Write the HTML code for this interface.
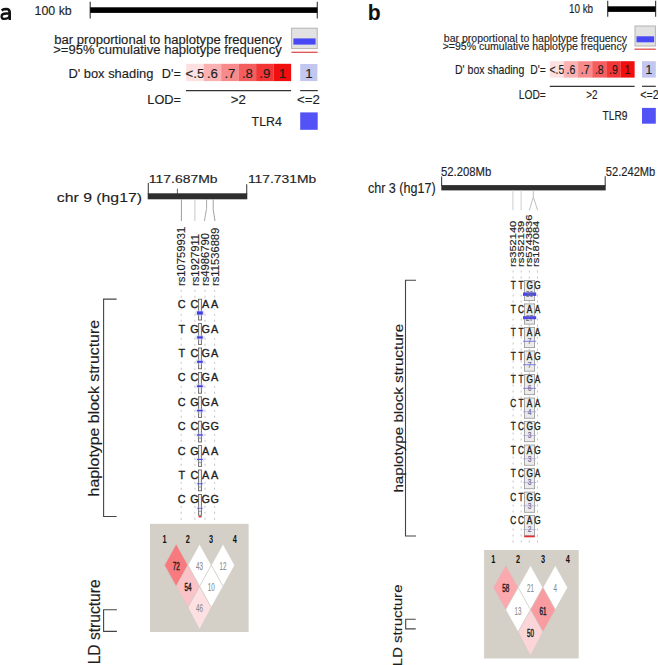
<!DOCTYPE html>
<html><head><meta charset="utf-8"><title>Haplotype figure</title>
<style>
html,body{margin:0;padding:0;background:#fff;}
body{width:658px;height:665px;overflow:hidden;}
svg{display:block;font-family:"Liberation Sans",sans-serif;}
</style></head>
<body>
<svg width="658" height="665" viewBox="0 0 658 665">
<rect x="0" y="0" width="658" height="665" fill="#fff"/>
<g fill="none" stroke="#111" stroke-width="2.5"><path d="M1.6,10.3 C3.2,9.4 4.8,9.1 6.2,9.1 C8.7,9.2 9.75,10.4 9.75,12.5 L9.75,19.9"/><path stroke-width="2.3" d="M9.75,13.5 L6.3,13.5 C3.3,13.5 1.6,14.6 1.6,16.4 C1.6,18.0 2.7,18.85 4.4,18.85 C7.2,18.85 9.75,17.4 9.75,15.0"/></g>
<text x="34.60" y="14.50" font-size="12.90" fill="#1e1e1e" stroke="#1e1e1e" stroke-width="0.15" textLength="37.10" lengthAdjust="spacingAndGlyphs" >100 kb</text>
<line x1="90.20" y1="1.80" x2="90.20" y2="18.50" stroke="#444" stroke-width="1.2" />
<line x1="317.30" y1="1.80" x2="317.30" y2="18.50" stroke="#444" stroke-width="1.2" />
<rect x="90.20" y="7.30" width="227.10" height="5.60" fill="#000"/>
<text x="54.30" y="43.90" font-size="12.30" fill="#1e1e1e" stroke="#1e1e1e" stroke-width="0.15" textLength="227.40" lengthAdjust="spacingAndGlyphs" >bar proportional to haplotype frequency</text>
<text x="53.20" y="53.60" font-size="12.30" fill="#1e1e1e" stroke="#1e1e1e" stroke-width="0.15" textLength="228.50" lengthAdjust="spacingAndGlyphs" >&gt;=95% cumulative haplotype frequency</text>
<rect x="291.60" y="28.20" width="25.60" height="20.40" fill="#e2e2e2" stroke="#b4b4b4" stroke-width="1"/>
<rect x="293.40" y="38.40" width="22.20" height="6.20" fill="#4848f4"/>
<line x1="291.40" y1="52.30" x2="317.60" y2="52.30" stroke="#e05050" stroke-width="1.3" />
<text x="68.40" y="77.80" font-size="13.60" fill="#1e1e1e" stroke="#1e1e1e" stroke-width="0.15" textLength="85.00" lengthAdjust="spacingAndGlyphs" >D' box shading</text>
<text x="161.80" y="77.80" font-size="13.60" fill="#1e1e1e" stroke="#1e1e1e" stroke-width="0.15" textLength="19.00" lengthAdjust="spacingAndGlyphs" >D'=</text>
<rect x="186.20" y="63.80" width="17.53" height="17.30" fill="#fde0e0"/>
<text x="194.94" y="77.80" font-size="13.20" fill="#1e1e1e" stroke="#1e1e1e" stroke-width="0.15" text-anchor="middle" >&lt;.5</text>
<rect x="203.68" y="63.80" width="17.53" height="17.30" fill="#f9b1b2"/>
<text x="212.42" y="77.80" font-size="13.20" fill="#1e1e1e" stroke="#1e1e1e" stroke-width="0.15" text-anchor="middle" >.6</text>
<rect x="221.16" y="63.80" width="17.53" height="17.30" fill="#f78b8c"/>
<text x="229.90" y="77.80" font-size="13.20" fill="#1e1e1e" stroke="#1e1e1e" stroke-width="0.15" text-anchor="middle" >.7</text>
<rect x="238.64" y="63.80" width="17.53" height="17.30" fill="#f55e5f"/>
<text x="247.38" y="77.80" font-size="13.20" fill="#1e1e1e" stroke="#1e1e1e" stroke-width="0.15" text-anchor="middle" >.8</text>
<rect x="256.12" y="63.80" width="17.53" height="17.30" fill="#f33535"/>
<text x="264.86" y="77.80" font-size="13.20" fill="#1e1e1e" stroke="#1e1e1e" stroke-width="0.15" text-anchor="middle" >.9</text>
<rect x="273.60" y="63.80" width="17.53" height="17.30" fill="#f00e0e"/>
<text x="282.34" y="77.80" font-size="13.20" fill="#1e1e1e" stroke="#1e1e1e" stroke-width="0.15" text-anchor="middle" >1</text>
<rect x="300.20" y="64.00" width="17.20" height="17.10" fill="#c3c6ee"/>
<text x="308.80" y="77.80" font-size="13.20" fill="#1e1e1e" stroke="#1e1e1e" stroke-width="0.15" text-anchor="middle" >1</text>
<line x1="186.00" y1="90.60" x2="291.10" y2="90.60" stroke="#333" stroke-width="1.2" />
<line x1="300.20" y1="90.60" x2="317.80" y2="90.60" stroke="#333" stroke-width="1.2" />
<text x="147.30" y="104.00" font-size="13.60" fill="#1e1e1e" stroke="#1e1e1e" stroke-width="0.15" textLength="33.70" lengthAdjust="spacingAndGlyphs" >LOD=</text>
<text x="238.40" y="104.00" font-size="13.30" fill="#1e1e1e" stroke="#1e1e1e" stroke-width="0.15" text-anchor="middle" >&gt;2</text>
<text x="308.50" y="104.00" font-size="13.30" fill="#1e1e1e" stroke="#1e1e1e" stroke-width="0.15" text-anchor="middle" >&lt;=2</text>
<text x="251.60" y="125.50" font-size="13.20" fill="#1e1e1e" stroke="#1e1e1e" stroke-width="0.15" textLength="30.20" lengthAdjust="spacingAndGlyphs" >TLR4</text>
<rect x="300.20" y="112.40" width="17.50" height="17.40" fill="#5252f6"/>
<text x="56.80" y="202.20" font-size="13.60" fill="#1e1e1e" stroke="#1e1e1e" stroke-width="0.15" textLength="85.20" lengthAdjust="spacingAndGlyphs" >chr 9 (hg17)</text>
<text x="148.80" y="183.20" font-size="11.80" fill="#1e1e1e" stroke="#1e1e1e" stroke-width="0.15" textLength="68.70" lengthAdjust="spacingAndGlyphs" >117.687Mb</text>
<text x="247.90" y="183.40" font-size="11.80" fill="#1e1e1e" stroke="#1e1e1e" stroke-width="0.15" textLength="68.40" lengthAdjust="spacingAndGlyphs" >117.731Mb</text>
<line x1="148.30" y1="183.00" x2="148.30" y2="194.00" stroke="#444" stroke-width="1.1" />
<line x1="246.70" y1="184.30" x2="246.70" y2="194.00" stroke="#444" stroke-width="1.1" />
<line x1="177.40" y1="188.60" x2="177.40" y2="194.00" stroke="#555" stroke-width="0.9" />
<rect x="147.70" y="193.30" width="99.60" height="6.00" fill="#2e2e2e"/>
<line x1="181.40" y1="199.30" x2="181.40" y2="221.00" stroke="#9c9c9c" stroke-width="1" />
<line x1="194.90" y1="199.30" x2="194.90" y2="221.00" stroke="#c6c6c6" stroke-width="1" />
<polyline points="206.60,199.30 206.60,208.30 204.40,221.00" fill="none" stroke="#aaaaaa" stroke-width="1"/>
<polyline points="213.20,199.30 213.20,209.50 215.00,221.00" fill="none" stroke="#a0a0a0" stroke-width="1"/>
<text transform="translate(185.10,286.00) rotate(-90)" x="0" y="0" font-size="11.00" fill="#1e1e1e" stroke="#1e1e1e" stroke-width="0.15" textLength="59.16" lengthAdjust="spacingAndGlyphs">rs10759931</text>
<text transform="translate(198.70,286.00) rotate(-90)" x="0" y="0" font-size="11.00" fill="#1e1e1e" stroke="#1e1e1e" stroke-width="0.15" textLength="52.10" lengthAdjust="spacingAndGlyphs">rs1927911</text>
<text transform="translate(208.50,286.00) rotate(-90)" x="0" y="0" font-size="11.00" fill="#1e1e1e" stroke="#1e1e1e" stroke-width="0.15" textLength="52.93" lengthAdjust="spacingAndGlyphs">rs4986790</text>
<text transform="translate(218.60,286.00) rotate(-90)" x="0" y="0" font-size="11.00" fill="#1e1e1e" stroke="#1e1e1e" stroke-width="0.15" textLength="58.33" lengthAdjust="spacingAndGlyphs">rs11536889</text>
<line x1="181.20" y1="289.80" x2="181.20" y2="523.00" stroke="#bdbdbd" stroke-width="0.9" stroke-dasharray="2 4"/>
<line x1="194.90" y1="289.80" x2="194.90" y2="523.00" stroke="#bdbdbd" stroke-width="0.9" stroke-dasharray="2 4"/>
<line x1="205.00" y1="289.80" x2="205.00" y2="523.00" stroke="#bdbdbd" stroke-width="0.9" stroke-dasharray="2 4"/>
<line x1="214.60" y1="289.80" x2="214.60" y2="523.00" stroke="#bdbdbd" stroke-width="0.9" stroke-dasharray="2 4"/>
<rect x="176.50" y="300.00" width="44.00" height="9.20" fill="#ffffff"/>
<rect x="198.50" y="299.20" width="3.10" height="20.80" fill="#f0f0f0" stroke="#5a5a5a" stroke-width="0.8"/>
<ellipse cx="199.9" cy="313.00" rx="5.0" ry="3.2" fill="#c4c4f4" opacity="0.55"/>
<rect x="197.00" y="311.40" width="5.80" height="3.20" fill="#4040e0"/>
<text x="181.70" y="308.20" font-size="10.80" fill="#1e1e1e" stroke="#1e1e1e" stroke-width="0.35" text-anchor="middle" >C</text>
<text x="194.40" y="308.20" font-size="10.80" fill="#1e1e1e" stroke="#1e1e1e" stroke-width="0.35" text-anchor="middle" >C</text>
<text x="205.60" y="308.20" font-size="10.80" fill="#1e1e1e" stroke="#1e1e1e" stroke-width="0.35" text-anchor="middle" >A</text>
<text x="214.60" y="308.20" font-size="10.80" fill="#1e1e1e" stroke="#1e1e1e" stroke-width="0.35" text-anchor="middle" >A</text>
<rect x="176.50" y="324.40" width="44.00" height="9.20" fill="#ffffff"/>
<rect x="198.50" y="323.60" width="3.10" height="20.80" fill="#f0f0f0" stroke="#5a5a5a" stroke-width="0.8"/>
<ellipse cx="199.9" cy="337.40" rx="5.0" ry="3.2" fill="#c4c4f4" opacity="0.44"/>
<rect x="197.00" y="336.30" width="5.80" height="2.20" fill="#4040e0"/>
<text x="181.70" y="332.60" font-size="10.80" fill="#1e1e1e" stroke="#1e1e1e" stroke-width="0.35" text-anchor="middle" >T</text>
<text x="194.40" y="332.60" font-size="10.80" fill="#1e1e1e" stroke="#1e1e1e" stroke-width="0.35" text-anchor="middle" >G</text>
<text x="205.60" y="332.60" font-size="10.80" fill="#1e1e1e" stroke="#1e1e1e" stroke-width="0.35" text-anchor="middle" >G</text>
<text x="214.60" y="332.60" font-size="10.80" fill="#1e1e1e" stroke="#1e1e1e" stroke-width="0.35" text-anchor="middle" >A</text>
<rect x="176.50" y="348.80" width="44.00" height="9.20" fill="#ffffff"/>
<rect x="198.50" y="348.00" width="3.10" height="20.80" fill="#f0f0f0" stroke="#5a5a5a" stroke-width="0.8"/>
<ellipse cx="199.9" cy="361.80" rx="5.0" ry="3.2" fill="#c4c4f4" opacity="0.41"/>
<rect x="197.00" y="360.80" width="5.80" height="2.00" fill="#4040e0"/>
<text x="181.70" y="357.00" font-size="10.80" fill="#1e1e1e" stroke="#1e1e1e" stroke-width="0.35" text-anchor="middle" >T</text>
<text x="194.40" y="357.00" font-size="10.80" fill="#1e1e1e" stroke="#1e1e1e" stroke-width="0.35" text-anchor="middle" >C</text>
<text x="205.60" y="357.00" font-size="10.80" fill="#1e1e1e" stroke="#1e1e1e" stroke-width="0.35" text-anchor="middle" >G</text>
<text x="214.60" y="357.00" font-size="10.80" fill="#1e1e1e" stroke="#1e1e1e" stroke-width="0.35" text-anchor="middle" >A</text>
<rect x="176.50" y="373.20" width="44.00" height="9.20" fill="#ffffff"/>
<rect x="198.50" y="372.40" width="3.10" height="20.80" fill="#f0f0f0" stroke="#5a5a5a" stroke-width="0.8"/>
<ellipse cx="199.9" cy="386.20" rx="5.0" ry="3.2" fill="#c4c4f4" opacity="0.39"/>
<rect x="197.00" y="385.30" width="5.80" height="1.80" fill="#4040e0"/>
<text x="181.70" y="381.40" font-size="10.80" fill="#1e1e1e" stroke="#1e1e1e" stroke-width="0.35" text-anchor="middle" >C</text>
<text x="194.40" y="381.40" font-size="10.80" fill="#1e1e1e" stroke="#1e1e1e" stroke-width="0.35" text-anchor="middle" >C</text>
<text x="205.60" y="381.40" font-size="10.80" fill="#1e1e1e" stroke="#1e1e1e" stroke-width="0.35" text-anchor="middle" >G</text>
<text x="214.60" y="381.40" font-size="10.80" fill="#1e1e1e" stroke="#1e1e1e" stroke-width="0.35" text-anchor="middle" >A</text>
<rect x="176.50" y="397.60" width="44.00" height="9.20" fill="#ffffff"/>
<rect x="198.50" y="396.80" width="3.10" height="20.80" fill="#f0f0f0" stroke="#5a5a5a" stroke-width="0.8"/>
<ellipse cx="199.9" cy="410.60" rx="5.0" ry="3.2" fill="#c4c4f4" opacity="0.36"/>
<rect x="197.00" y="409.80" width="5.80" height="1.60" fill="#4040e0"/>
<text x="181.70" y="405.80" font-size="10.80" fill="#1e1e1e" stroke="#1e1e1e" stroke-width="0.35" text-anchor="middle" >C</text>
<text x="194.40" y="405.80" font-size="10.80" fill="#1e1e1e" stroke="#1e1e1e" stroke-width="0.35" text-anchor="middle" >G</text>
<text x="205.60" y="405.80" font-size="10.80" fill="#1e1e1e" stroke="#1e1e1e" stroke-width="0.35" text-anchor="middle" >G</text>
<text x="214.60" y="405.80" font-size="10.80" fill="#1e1e1e" stroke="#1e1e1e" stroke-width="0.35" text-anchor="middle" >A</text>
<rect x="176.50" y="422.00" width="44.00" height="9.20" fill="#ffffff"/>
<rect x="198.50" y="421.20" width="3.10" height="20.80" fill="#f0f0f0" stroke="#5a5a5a" stroke-width="0.8"/>
<ellipse cx="199.9" cy="435.00" rx="5.0" ry="3.2" fill="#c4c4f4" opacity="0.30"/>
<rect x="197.00" y="434.35" width="5.80" height="1.30" fill="#4040e0"/>
<line x1="198.60" y1="438.20" x2="201.50" y2="438.20" stroke="#777" stroke-width="0.6" />
<text x="181.70" y="430.20" font-size="10.80" fill="#1e1e1e" stroke="#1e1e1e" stroke-width="0.35" text-anchor="middle" >C</text>
<text x="194.40" y="430.20" font-size="10.80" fill="#1e1e1e" stroke="#1e1e1e" stroke-width="0.35" text-anchor="middle" >C</text>
<text x="205.60" y="430.20" font-size="10.80" fill="#1e1e1e" stroke="#1e1e1e" stroke-width="0.35" text-anchor="middle" >G</text>
<text x="214.60" y="430.20" font-size="10.80" fill="#1e1e1e" stroke="#1e1e1e" stroke-width="0.35" text-anchor="middle" >G</text>
<rect x="176.50" y="446.40" width="44.00" height="9.20" fill="#ffffff"/>
<rect x="198.50" y="445.60" width="3.10" height="20.80" fill="#f0f0f0" stroke="#5a5a5a" stroke-width="0.8"/>
<ellipse cx="199.9" cy="459.40" rx="5.0" ry="3.2" fill="#c4c4f4" opacity="0.25"/>
<rect x="197.00" y="458.90" width="5.80" height="1.00" fill="#4040e0"/>
<line x1="198.60" y1="462.60" x2="201.50" y2="462.60" stroke="#777" stroke-width="0.6" />
<text x="181.70" y="454.60" font-size="10.80" fill="#1e1e1e" stroke="#1e1e1e" stroke-width="0.35" text-anchor="middle" >C</text>
<text x="194.40" y="454.60" font-size="10.80" fill="#1e1e1e" stroke="#1e1e1e" stroke-width="0.35" text-anchor="middle" >G</text>
<text x="205.60" y="454.60" font-size="10.80" fill="#1e1e1e" stroke="#1e1e1e" stroke-width="0.35" text-anchor="middle" >A</text>
<text x="214.60" y="454.60" font-size="10.80" fill="#1e1e1e" stroke="#1e1e1e" stroke-width="0.35" text-anchor="middle" >A</text>
<rect x="176.50" y="470.80" width="44.00" height="9.20" fill="#ffffff"/>
<rect x="198.50" y="470.00" width="3.10" height="20.80" fill="#f0f0f0" stroke="#5a5a5a" stroke-width="0.8"/>
<ellipse cx="199.9" cy="483.80" rx="5.0" ry="3.2" fill="#c4c4f4" opacity="0.17"/>
<rect x="197.00" y="483.40" width="5.80" height="0.80" fill="#4040e0"/>
<line x1="198.60" y1="487.00" x2="201.50" y2="487.00" stroke="#777" stroke-width="0.6" />
<text x="181.70" y="479.00" font-size="10.80" fill="#1e1e1e" stroke="#1e1e1e" stroke-width="0.35" text-anchor="middle" >T</text>
<text x="194.40" y="479.00" font-size="10.80" fill="#1e1e1e" stroke="#1e1e1e" stroke-width="0.35" text-anchor="middle" >C</text>
<text x="205.60" y="479.00" font-size="10.80" fill="#1e1e1e" stroke="#1e1e1e" stroke-width="0.35" text-anchor="middle" >A</text>
<text x="214.60" y="479.00" font-size="10.80" fill="#1e1e1e" stroke="#1e1e1e" stroke-width="0.35" text-anchor="middle" >A</text>
<rect x="176.50" y="495.20" width="44.00" height="9.20" fill="#ffffff"/>
<rect x="198.50" y="494.40" width="3.10" height="20.80" fill="#f0f0f0" stroke="#5a5a5a" stroke-width="0.8"/>
<ellipse cx="199.9" cy="508.20" rx="5.0" ry="3.2" fill="#c4c4f4" opacity="0.14"/>
<rect x="197.00" y="507.90" width="5.80" height="0.60" fill="#4040e0"/>
<line x1="198.60" y1="511.40" x2="201.50" y2="511.40" stroke="#777" stroke-width="0.6" />
<text x="181.70" y="503.40" font-size="10.80" fill="#1e1e1e" stroke="#1e1e1e" stroke-width="0.35" text-anchor="middle" >C</text>
<text x="194.40" y="503.40" font-size="10.80" fill="#1e1e1e" stroke="#1e1e1e" stroke-width="0.35" text-anchor="middle" >G</text>
<text x="205.60" y="503.40" font-size="10.80" fill="#1e1e1e" stroke="#1e1e1e" stroke-width="0.35" text-anchor="middle" >G</text>
<text x="214.60" y="503.40" font-size="10.80" fill="#1e1e1e" stroke="#1e1e1e" stroke-width="0.35" text-anchor="middle" >G</text>
<rect x="198.60" y="516.00" width="3.00" height="1.40" fill="#e03030"/>
<polyline points="116.60,299.10 103.60,299.10 103.60,516.50 116.60,516.50" fill="none" stroke="#444" stroke-width="1.1"/>
<text transform="translate(99.40,496.40) rotate(-90)" x="0" y="0" font-size="15.10" fill="#1e1e1e" stroke="#1e1e1e" stroke-width="0.15" textLength="176.40" lengthAdjust="spacingAndGlyphs">haplotype block structure</text>
<text transform="translate(99.80,664.30) rotate(-90)" x="0" y="0" font-size="15.80" fill="#1e1e1e" stroke="#1e1e1e" stroke-width="0.15" textLength="84.90" lengthAdjust="spacingAndGlyphs">LD structure</text>
<polyline points="116.90,609.70 103.60,609.70 103.60,631.40 116.90,631.40" fill="none" stroke="#444" stroke-width="1.1"/>
<rect x="150.00" y="523.80" width="98.60" height="108.20" fill="#d4d0c8"/>
<text x="164.60" y="542.90" font-size="10.20" fill="#111" font-weight="bold" text-anchor="middle" transform="translate(164.60,0) scale(0.72,1) translate(-164.60,0)">1</text>
<text x="187.80" y="542.90" font-size="10.20" fill="#111" font-weight="bold" text-anchor="middle" transform="translate(187.80,0) scale(0.72,1) translate(-187.80,0)">2</text>
<text x="211.00" y="542.90" font-size="10.20" fill="#111" font-weight="bold" text-anchor="middle" transform="translate(211.00,0) scale(0.72,1) translate(-211.00,0)">3</text>
<text x="234.80" y="542.90" font-size="10.20" fill="#111" font-weight="bold" text-anchor="middle" transform="translate(234.80,0) scale(0.72,1) translate(-234.80,0)">4</text>
<polygon points="176.20,544.00 187.90,565.20 176.20,586.40 164.50,565.20" fill="#f77b7e" stroke="#cfcbc3" stroke-width="0.6"/>
<polygon points="199.60,544.00 211.30,565.20 199.60,586.40 187.90,565.20" fill="#ffffff" stroke="#cfcbc3" stroke-width="0.6"/>
<polygon points="223.00,544.00 234.70,565.20 223.00,586.40 211.30,565.20" fill="#ffffff" stroke="#cfcbc3" stroke-width="0.6"/>
<polygon points="187.90,565.20 199.60,586.40 187.90,607.60 176.20,586.40" fill="#fac3c7" stroke="#cfcbc3" stroke-width="0.6"/>
<polygon points="211.30,565.20 223.00,586.40 211.30,607.60 199.60,586.40" fill="#ffffff" stroke="#cfcbc3" stroke-width="0.6"/>
<polygon points="199.60,586.40 211.30,607.60 199.60,629.60 187.90,607.60" fill="#fde0e2" stroke="#cfcbc3" stroke-width="0.6"/>
<text x="176.20" y="570.10" font-size="11.20" fill="#222" stroke="#222" stroke-width="0.5" text-anchor="middle" transform="translate(176.20,0) scale(0.56,1) translate(-176.20,0)">72</text>
<text x="199.60" y="570.10" font-size="11.20" fill="#8a8a8a" stroke="#8a8a8a" stroke-width="0.1" text-anchor="middle" transform="translate(199.60,0) scale(0.56,1) translate(-199.60,0)">43</text>
<text x="223.00" y="570.10" font-size="11.20" fill="#8a8a8a" stroke="#8a8a8a" stroke-width="0.1" text-anchor="middle" transform="translate(223.00,0) scale(0.56,1) translate(-223.00,0)">12</text>
<text x="187.90" y="591.30" font-size="11.20" fill="#222" stroke="#222" stroke-width="0.5" text-anchor="middle" transform="translate(187.90,0) scale(0.56,1) translate(-187.90,0)">54</text>
<text x="211.30" y="591.30" font-size="11.20" fill="#8a8a8a" stroke="#8a8a8a" stroke-width="0.1" text-anchor="middle" transform="translate(211.30,0) scale(0.56,1) translate(-211.30,0)">10</text>
<text x="199.60" y="612.50" font-size="11.20" fill="#8a8a8a" stroke="#8a8a8a" stroke-width="0.1" text-anchor="middle" transform="translate(199.60,0) scale(0.56,1) translate(-199.60,0)">46</text>
<text x="367.70" y="19.90" font-size="22.10" fill="#111" font-weight="bold" textLength="12.90" lengthAdjust="spacingAndGlyphs" >b</text>
<text x="568.90" y="12.70" font-size="12.20" fill="#1e1e1e" stroke="#1e1e1e" stroke-width="0.15" textLength="24.20" lengthAdjust="spacingAndGlyphs" >10 kb</text>
<line x1="607.70" y1="0.70" x2="607.70" y2="16.70" stroke="#444" stroke-width="1.2" />
<line x1="655.60" y1="0.70" x2="655.60" y2="16.70" stroke="#444" stroke-width="1.2" />
<rect x="607.70" y="6.30" width="47.90" height="5.60" fill="#000"/>
<text x="443.80" y="41.50" font-size="11.40" fill="#1e1e1e" stroke="#1e1e1e" stroke-width="0.15" textLength="183.20" lengthAdjust="spacingAndGlyphs" >bar proportional to haplotype frequency</text>
<text x="442.70" y="49.80" font-size="11.40" fill="#1e1e1e" stroke="#1e1e1e" stroke-width="0.15" textLength="184.30" lengthAdjust="spacingAndGlyphs" >&gt;=95% cumulative haplotype frequency</text>
<rect x="635.00" y="26.00" width="20.40" height="20.00" fill="#e2e2e2" stroke="#b4b4b4" stroke-width="1"/>
<rect x="636.50" y="36.30" width="17.60" height="6.00" fill="#4848f4"/>
<line x1="634.50" y1="49.20" x2="655.80" y2="49.20" stroke="#e05050" stroke-width="1.3" />
<text x="455.00" y="73.80" font-size="12.40" fill="#1e1e1e" stroke="#1e1e1e" stroke-width="0.15" textLength="69.30" lengthAdjust="spacingAndGlyphs" >D' box shading</text>
<text x="530.30" y="73.80" font-size="12.40" fill="#1e1e1e" stroke="#1e1e1e" stroke-width="0.15" textLength="15.50" lengthAdjust="spacingAndGlyphs" >D'=</text>
<rect x="549.80" y="61.20" width="14.18" height="16.40" fill="#fde0e0"/>
<text x="549.43" y="74.00" font-size="12.20" fill="#1e1e1e" stroke="#1e1e1e" stroke-width="0.15" textLength="14.88" lengthAdjust="spacingAndGlyphs" >&lt;.5</text>
<rect x="563.93" y="61.20" width="14.18" height="16.40" fill="#f9b1b2"/>
<text x="566.62" y="74.00" font-size="12.20" fill="#1e1e1e" stroke="#1e1e1e" stroke-width="0.15" textLength="8.75" lengthAdjust="spacingAndGlyphs" >.6</text>
<rect x="578.06" y="61.20" width="14.18" height="16.40" fill="#f78b8c"/>
<text x="580.75" y="74.00" font-size="12.20" fill="#1e1e1e" stroke="#1e1e1e" stroke-width="0.15" textLength="8.75" lengthAdjust="spacingAndGlyphs" >.7</text>
<rect x="592.19" y="61.20" width="14.18" height="16.40" fill="#f55e5f"/>
<text x="594.88" y="74.00" font-size="12.20" fill="#1e1e1e" stroke="#1e1e1e" stroke-width="0.15" textLength="8.75" lengthAdjust="spacingAndGlyphs" >.8</text>
<rect x="606.32" y="61.20" width="14.18" height="16.40" fill="#f33535"/>
<text x="609.01" y="74.00" font-size="12.20" fill="#1e1e1e" stroke="#1e1e1e" stroke-width="0.15" textLength="8.75" lengthAdjust="spacingAndGlyphs" >.9</text>
<rect x="620.45" y="61.20" width="14.18" height="16.40" fill="#f00e0e"/>
<text x="624.60" y="74.00" font-size="12.20" fill="#1e1e1e" stroke="#1e1e1e" stroke-width="0.15" textLength="5.84" lengthAdjust="spacingAndGlyphs" >1</text>
<rect x="642.00" y="61.20" width="13.80" height="16.40" fill="#c3c6ee"/>
<text x="648.90" y="74.00" font-size="12.20" fill="#1e1e1e" stroke="#1e1e1e" stroke-width="0.15" text-anchor="middle" >1</text>
<line x1="549.80" y1="86.30" x2="634.60" y2="86.30" stroke="#333" stroke-width="1.2" />
<line x1="642.00" y1="86.30" x2="655.80" y2="86.30" stroke="#333" stroke-width="1.2" />
<text x="518.80" y="98.80" font-size="12.60" fill="#1e1e1e" stroke="#1e1e1e" stroke-width="0.15" textLength="27.00" lengthAdjust="spacingAndGlyphs" >LOD=</text>
<text x="586.20" y="98.80" font-size="12.60" fill="#1e1e1e" stroke="#1e1e1e" stroke-width="0.15" textLength="11.30" lengthAdjust="spacingAndGlyphs" >&gt;2</text>
<text x="640.30" y="98.80" font-size="12.60" fill="#1e1e1e" stroke="#1e1e1e" stroke-width="0.15" textLength="18.50" lengthAdjust="spacingAndGlyphs" >&lt;=2</text>
<text x="602.50" y="119.90" font-size="12.00" fill="#1e1e1e" stroke="#1e1e1e" stroke-width="0.15" textLength="24.90" lengthAdjust="spacingAndGlyphs" >TLR9</text>
<rect x="642.00" y="107.90" width="13.80" height="15.80" fill="#5252f6"/>
<text x="367.90" y="192.70" font-size="14.40" fill="#1e1e1e" stroke="#1e1e1e" stroke-width="0.15" textLength="67.80" lengthAdjust="spacingAndGlyphs" >chr 3 (hg17)</text>
<text x="440.90" y="175.70" font-size="12.60" fill="#1e1e1e" stroke="#1e1e1e" stroke-width="0.15" textLength="50.40" lengthAdjust="spacingAndGlyphs" >52.208Mb</text>
<text x="605.80" y="175.70" font-size="12.60" fill="#1e1e1e" stroke="#1e1e1e" stroke-width="0.15" textLength="49.50" lengthAdjust="spacingAndGlyphs" >52.242Mb</text>
<line x1="441.60" y1="176.50" x2="441.60" y2="186.00" stroke="#444" stroke-width="1.1" />
<line x1="605.20" y1="176.30" x2="605.20" y2="186.00" stroke="#444" stroke-width="1.1" />
<rect x="441.30" y="185.10" width="164.40" height="5.30" fill="#2e2e2e"/>
<path d="M512.9,190.3 V210.4 M521.1,190.3 V210.4" stroke="#cfcfcf" stroke-width="1" fill="none"/>
<path d="M533.3,190.3 V197.2 Q531.6,202 529.4,210.4 M533.3,197.2 Q535.0,202 537.7,210.4" stroke="#b8b8b8" stroke-width="0.9" fill="none"/>
<text transform="translate(515.90,267.0) scale(0.74,1) rotate(-90)" x="0" y="0" font-size="11.1" fill="#1e1e1e" stroke="#1e1e1e" stroke-width="0.22">rs352140</text>
<text transform="translate(523.90,267.0) scale(0.74,1) rotate(-90)" x="0" y="0" font-size="11.1" fill="#1e1e1e" stroke="#1e1e1e" stroke-width="0.22">rs352139</text>
<text transform="translate(531.50,267.0) scale(0.74,1) rotate(-90)" x="0" y="0" font-size="11.1" fill="#1e1e1e" stroke="#1e1e1e" stroke-width="0.22">rs5743836</text>
<text transform="translate(539.00,267.0) scale(0.74,1) rotate(-90)" x="0" y="0" font-size="11.1" fill="#1e1e1e" stroke="#1e1e1e" stroke-width="0.22">rs187084</text>
<line x1="513.10" y1="270.50" x2="513.10" y2="544.00" stroke="#bdbdbd" stroke-width="0.9" stroke-dasharray="2 4"/>
<line x1="521.20" y1="270.50" x2="521.20" y2="544.00" stroke="#bdbdbd" stroke-width="0.9" stroke-dasharray="2 4"/>
<line x1="529.30" y1="270.50" x2="529.30" y2="544.00" stroke="#bdbdbd" stroke-width="0.9" stroke-dasharray="2 4"/>
<line x1="537.50" y1="270.50" x2="537.50" y2="544.00" stroke="#bdbdbd" stroke-width="0.9" stroke-dasharray="2 4"/>
<rect x="509.00" y="281.00" width="33.00" height="9.00" fill="#ffffff"/>
<rect x="524.40" y="280.40" width="10.20" height="20.20" fill="#ececec" stroke="#959595" stroke-width="0.8"/>
<rect x="523.00" y="292.50" width="13.20" height="3.40" fill="#4848ee"/>
<text x="529.50" y="297.20" font-size="8.30" fill="#6a6a90" stroke="#6a6a90" stroke-width="0.15" text-anchor="middle" transform="translate(529.5,0) scale(0.8,1) translate(-529.5,0)">30</text>
<text x="510.78" y="289.00" font-size="10.30" fill="#1e1e1e" stroke="#1e1e1e" stroke-width="0.35" textLength="5.03" lengthAdjust="spacingAndGlyphs" >T</text>
<text x="518.58" y="289.00" font-size="10.30" fill="#1e1e1e" stroke="#1e1e1e" stroke-width="0.35" textLength="5.03" lengthAdjust="spacingAndGlyphs" >T</text>
<text x="526.40" y="289.00" font-size="10.30" fill="#1e1e1e" stroke="#1e1e1e" stroke-width="0.35" textLength="6.41" lengthAdjust="spacingAndGlyphs" >G</text>
<text x="534.30" y="289.00" font-size="10.30" fill="#1e1e1e" stroke="#1e1e1e" stroke-width="0.35" textLength="6.41" lengthAdjust="spacingAndGlyphs" >G</text>
<rect x="509.00" y="304.52" width="33.00" height="9.00" fill="#ffffff"/>
<rect x="524.40" y="303.92" width="10.20" height="20.20" fill="#ececec" stroke="#959595" stroke-width="0.8"/>
<rect x="523.00" y="316.22" width="13.20" height="3.00" fill="#4848ee"/>
<text x="529.50" y="320.72" font-size="8.30" fill="#6a6a90" stroke="#6a6a90" stroke-width="0.15" text-anchor="middle" transform="translate(529.5,0) scale(0.8,1) translate(-529.5,0)">27</text>
<text x="510.78" y="312.52" font-size="10.30" fill="#1e1e1e" stroke="#1e1e1e" stroke-width="0.35" textLength="5.03" lengthAdjust="spacingAndGlyphs" >T</text>
<text x="518.12" y="312.52" font-size="10.30" fill="#1e1e1e" stroke="#1e1e1e" stroke-width="0.35" textLength="5.95" lengthAdjust="spacingAndGlyphs" >C</text>
<text x="526.85" y="312.52" font-size="10.30" fill="#1e1e1e" stroke="#1e1e1e" stroke-width="0.35" textLength="5.50" lengthAdjust="spacingAndGlyphs" >A</text>
<text x="534.75" y="312.52" font-size="10.30" fill="#1e1e1e" stroke="#1e1e1e" stroke-width="0.35" textLength="5.50" lengthAdjust="spacingAndGlyphs" >A</text>
<rect x="509.00" y="328.04" width="33.00" height="9.00" fill="#ffffff"/>
<rect x="524.40" y="327.44" width="10.20" height="20.20" fill="#ececec" stroke="#959595" stroke-width="0.8"/>
<rect x="523.00" y="340.79" width="13.20" height="0.90" fill="#7474f0"/>
<text x="529.50" y="344.24" font-size="8.30" fill="#6a6a90" stroke="#6a6a90" stroke-width="0.15" text-anchor="middle" transform="translate(529.5,0) scale(0.8,1) translate(-529.5,0)">7</text>
<text x="510.78" y="336.04" font-size="10.30" fill="#1e1e1e" stroke="#1e1e1e" stroke-width="0.35" textLength="5.03" lengthAdjust="spacingAndGlyphs" >T</text>
<text x="518.58" y="336.04" font-size="10.30" fill="#1e1e1e" stroke="#1e1e1e" stroke-width="0.35" textLength="5.03" lengthAdjust="spacingAndGlyphs" >T</text>
<text x="526.85" y="336.04" font-size="10.30" fill="#1e1e1e" stroke="#1e1e1e" stroke-width="0.35" textLength="5.50" lengthAdjust="spacingAndGlyphs" >A</text>
<text x="534.75" y="336.04" font-size="10.30" fill="#1e1e1e" stroke="#1e1e1e" stroke-width="0.35" textLength="5.50" lengthAdjust="spacingAndGlyphs" >A</text>
<rect x="509.00" y="351.56" width="33.00" height="9.00" fill="#ffffff"/>
<rect x="524.40" y="350.96" width="10.20" height="20.20" fill="#ececec" stroke="#959595" stroke-width="0.8"/>
<rect x="523.00" y="364.31" width="13.20" height="0.90" fill="#7474f0"/>
<text x="529.50" y="367.76" font-size="8.30" fill="#6a6a90" stroke="#6a6a90" stroke-width="0.15" text-anchor="middle" transform="translate(529.5,0) scale(0.8,1) translate(-529.5,0)">7</text>
<text x="510.78" y="359.56" font-size="10.30" fill="#1e1e1e" stroke="#1e1e1e" stroke-width="0.35" textLength="5.03" lengthAdjust="spacingAndGlyphs" >T</text>
<text x="518.58" y="359.56" font-size="10.30" fill="#1e1e1e" stroke="#1e1e1e" stroke-width="0.35" textLength="5.03" lengthAdjust="spacingAndGlyphs" >T</text>
<text x="526.85" y="359.56" font-size="10.30" fill="#1e1e1e" stroke="#1e1e1e" stroke-width="0.35" textLength="5.50" lengthAdjust="spacingAndGlyphs" >A</text>
<text x="534.30" y="359.56" font-size="10.30" fill="#1e1e1e" stroke="#1e1e1e" stroke-width="0.35" textLength="6.41" lengthAdjust="spacingAndGlyphs" >G</text>
<rect x="509.00" y="375.08" width="33.00" height="9.00" fill="#ffffff"/>
<rect x="524.40" y="374.48" width="10.20" height="20.20" fill="#ececec" stroke="#959595" stroke-width="0.8"/>
<rect x="523.00" y="387.88" width="13.20" height="0.80" fill="#7474f0"/>
<text x="529.50" y="391.28" font-size="8.30" fill="#6a6a90" stroke="#6a6a90" stroke-width="0.15" text-anchor="middle" transform="translate(529.5,0) scale(0.8,1) translate(-529.5,0)">6</text>
<text x="510.78" y="383.08" font-size="10.30" fill="#1e1e1e" stroke="#1e1e1e" stroke-width="0.35" textLength="5.03" lengthAdjust="spacingAndGlyphs" >T</text>
<text x="518.58" y="383.08" font-size="10.30" fill="#1e1e1e" stroke="#1e1e1e" stroke-width="0.35" textLength="5.03" lengthAdjust="spacingAndGlyphs" >T</text>
<text x="526.40" y="383.08" font-size="10.30" fill="#1e1e1e" stroke="#1e1e1e" stroke-width="0.35" textLength="6.41" lengthAdjust="spacingAndGlyphs" >G</text>
<text x="534.75" y="383.08" font-size="10.30" fill="#1e1e1e" stroke="#1e1e1e" stroke-width="0.35" textLength="5.50" lengthAdjust="spacingAndGlyphs" >A</text>
<rect x="509.00" y="398.60" width="33.00" height="9.00" fill="#ffffff"/>
<rect x="524.40" y="398.00" width="10.20" height="20.20" fill="#ececec" stroke="#959595" stroke-width="0.8"/>
<rect x="523.00" y="411.45" width="13.20" height="0.70" fill="#9a9aec"/>
<text x="529.50" y="414.80" font-size="8.30" fill="#6a6a90" stroke="#6a6a90" stroke-width="0.15" text-anchor="middle" transform="translate(529.5,0) scale(0.8,1) translate(-529.5,0)">4</text>
<text x="510.32" y="406.60" font-size="10.30" fill="#1e1e1e" stroke="#1e1e1e" stroke-width="0.35" textLength="5.95" lengthAdjust="spacingAndGlyphs" >C</text>
<text x="518.58" y="406.60" font-size="10.30" fill="#1e1e1e" stroke="#1e1e1e" stroke-width="0.35" textLength="5.03" lengthAdjust="spacingAndGlyphs" >T</text>
<text x="526.85" y="406.60" font-size="10.30" fill="#1e1e1e" stroke="#1e1e1e" stroke-width="0.35" textLength="5.50" lengthAdjust="spacingAndGlyphs" >A</text>
<text x="534.75" y="406.60" font-size="10.30" fill="#1e1e1e" stroke="#1e1e1e" stroke-width="0.35" textLength="5.50" lengthAdjust="spacingAndGlyphs" >A</text>
<rect x="509.00" y="422.12" width="33.00" height="9.00" fill="#ffffff"/>
<rect x="524.40" y="421.52" width="10.20" height="20.20" fill="#ececec" stroke="#959595" stroke-width="0.8"/>
<rect x="523.00" y="435.02" width="13.20" height="0.60" fill="#9a9aec"/>
<text x="529.50" y="438.32" font-size="8.30" fill="#6a6a90" stroke="#6a6a90" stroke-width="0.15" text-anchor="middle" transform="translate(529.5,0) scale(0.8,1) translate(-529.5,0)">3</text>
<text x="510.78" y="430.12" font-size="10.30" fill="#1e1e1e" stroke="#1e1e1e" stroke-width="0.35" textLength="5.03" lengthAdjust="spacingAndGlyphs" >T</text>
<text x="518.12" y="430.12" font-size="10.30" fill="#1e1e1e" stroke="#1e1e1e" stroke-width="0.35" textLength="5.95" lengthAdjust="spacingAndGlyphs" >C</text>
<text x="526.40" y="430.12" font-size="10.30" fill="#1e1e1e" stroke="#1e1e1e" stroke-width="0.35" textLength="6.41" lengthAdjust="spacingAndGlyphs" >G</text>
<text x="534.30" y="430.12" font-size="10.30" fill="#1e1e1e" stroke="#1e1e1e" stroke-width="0.35" textLength="6.41" lengthAdjust="spacingAndGlyphs" >G</text>
<rect x="509.00" y="445.64" width="33.00" height="9.00" fill="#ffffff"/>
<rect x="524.40" y="445.04" width="10.20" height="20.20" fill="#ececec" stroke="#959595" stroke-width="0.8"/>
<rect x="523.00" y="458.54" width="13.20" height="0.60" fill="#9a9aec"/>
<text x="529.50" y="461.84" font-size="8.30" fill="#6a6a90" stroke="#6a6a90" stroke-width="0.15" text-anchor="middle" transform="translate(529.5,0) scale(0.8,1) translate(-529.5,0)">3</text>
<text x="510.78" y="453.64" font-size="10.30" fill="#1e1e1e" stroke="#1e1e1e" stroke-width="0.35" textLength="5.03" lengthAdjust="spacingAndGlyphs" >T</text>
<text x="518.12" y="453.64" font-size="10.30" fill="#1e1e1e" stroke="#1e1e1e" stroke-width="0.35" textLength="5.95" lengthAdjust="spacingAndGlyphs" >C</text>
<text x="526.85" y="453.64" font-size="10.30" fill="#1e1e1e" stroke="#1e1e1e" stroke-width="0.35" textLength="5.50" lengthAdjust="spacingAndGlyphs" >A</text>
<text x="534.30" y="453.64" font-size="10.30" fill="#1e1e1e" stroke="#1e1e1e" stroke-width="0.35" textLength="6.41" lengthAdjust="spacingAndGlyphs" >G</text>
<rect x="509.00" y="469.16" width="33.00" height="9.00" fill="#ffffff"/>
<rect x="524.40" y="468.56" width="10.20" height="20.20" fill="#ececec" stroke="#959595" stroke-width="0.8"/>
<rect x="523.00" y="482.06" width="13.20" height="0.60" fill="#9a9aec"/>
<text x="529.50" y="485.36" font-size="8.30" fill="#6a6a90" stroke="#6a6a90" stroke-width="0.15" text-anchor="middle" transform="translate(529.5,0) scale(0.8,1) translate(-529.5,0)">3</text>
<text x="510.78" y="477.16" font-size="10.30" fill="#1e1e1e" stroke="#1e1e1e" stroke-width="0.35" textLength="5.03" lengthAdjust="spacingAndGlyphs" >T</text>
<text x="518.12" y="477.16" font-size="10.30" fill="#1e1e1e" stroke="#1e1e1e" stroke-width="0.35" textLength="5.95" lengthAdjust="spacingAndGlyphs" >C</text>
<text x="526.40" y="477.16" font-size="10.30" fill="#1e1e1e" stroke="#1e1e1e" stroke-width="0.35" textLength="6.41" lengthAdjust="spacingAndGlyphs" >G</text>
<text x="534.75" y="477.16" font-size="10.30" fill="#1e1e1e" stroke="#1e1e1e" stroke-width="0.35" textLength="5.50" lengthAdjust="spacingAndGlyphs" >A</text>
<rect x="509.00" y="492.68" width="33.00" height="9.00" fill="#ffffff"/>
<rect x="524.40" y="492.08" width="10.20" height="20.20" fill="#ececec" stroke="#959595" stroke-width="0.8"/>
<rect x="523.00" y="505.58" width="13.20" height="0.60" fill="#9a9aec"/>
<text x="529.50" y="508.88" font-size="8.30" fill="#6a6a90" stroke="#6a6a90" stroke-width="0.15" text-anchor="middle" transform="translate(529.5,0) scale(0.8,1) translate(-529.5,0)">3</text>
<text x="510.32" y="500.68" font-size="10.30" fill="#1e1e1e" stroke="#1e1e1e" stroke-width="0.35" textLength="5.95" lengthAdjust="spacingAndGlyphs" >C</text>
<text x="518.58" y="500.68" font-size="10.30" fill="#1e1e1e" stroke="#1e1e1e" stroke-width="0.35" textLength="5.03" lengthAdjust="spacingAndGlyphs" >T</text>
<text x="526.40" y="500.68" font-size="10.30" fill="#1e1e1e" stroke="#1e1e1e" stroke-width="0.35" textLength="6.41" lengthAdjust="spacingAndGlyphs" >G</text>
<text x="534.30" y="500.68" font-size="10.30" fill="#1e1e1e" stroke="#1e1e1e" stroke-width="0.35" textLength="6.41" lengthAdjust="spacingAndGlyphs" >G</text>
<rect x="509.00" y="516.20" width="33.00" height="9.00" fill="#ffffff"/>
<rect x="524.40" y="515.60" width="10.20" height="20.20" fill="#ececec" stroke="#959595" stroke-width="0.8"/>
<rect x="523.00" y="529.15" width="13.20" height="0.50" fill="#9a9aec"/>
<text x="529.50" y="532.40" font-size="8.30" fill="#6a6a90" stroke="#6a6a90" stroke-width="0.15" text-anchor="middle" transform="translate(529.5,0) scale(0.8,1) translate(-529.5,0)">2</text>
<text x="510.32" y="524.20" font-size="10.30" fill="#1e1e1e" stroke="#1e1e1e" stroke-width="0.35" textLength="5.95" lengthAdjust="spacingAndGlyphs" >C</text>
<text x="518.12" y="524.20" font-size="10.30" fill="#1e1e1e" stroke="#1e1e1e" stroke-width="0.35" textLength="5.95" lengthAdjust="spacingAndGlyphs" >C</text>
<text x="526.85" y="524.20" font-size="10.30" fill="#1e1e1e" stroke="#1e1e1e" stroke-width="0.35" textLength="5.50" lengthAdjust="spacingAndGlyphs" >A</text>
<text x="534.30" y="524.20" font-size="10.30" fill="#1e1e1e" stroke="#1e1e1e" stroke-width="0.35" textLength="6.41" lengthAdjust="spacingAndGlyphs" >G</text>
<rect x="524.20" y="535.60" width="10.60" height="1.70" fill="#e03030"/>
<polyline points="416.00,280.30 405.50,280.30 405.50,536.00 416.00,536.00" fill="none" stroke="#444" stroke-width="1.1"/>
<text transform="translate(402.80,492.60) rotate(-90)" x="0" y="0" font-size="13.70" fill="#1e1e1e" stroke="#1e1e1e" stroke-width="0.15" textLength="168.70" lengthAdjust="spacingAndGlyphs">haplotype block structure</text>
<text transform="translate(402.40,666.40) rotate(-90)" x="0" y="0" font-size="13.60" fill="#1e1e1e" stroke="#1e1e1e" stroke-width="0.15" textLength="81.90" lengthAdjust="spacingAndGlyphs">LD structure</text>
<polyline points="415.70,619.30 405.70,619.30 405.70,628.90 415.70,628.90" fill="none" stroke="#444" stroke-width="1.1"/>
<rect x="484.10" y="550.00" width="94.60" height="108.50" fill="#d4d0c8"/>
<text x="493.40" y="562.90" font-size="10.20" fill="#111" font-weight="bold" text-anchor="middle" transform="translate(493.40,0) scale(0.72,1) translate(-493.40,0)">1</text>
<text x="518.10" y="562.90" font-size="10.20" fill="#111" font-weight="bold" text-anchor="middle" transform="translate(518.10,0) scale(0.72,1) translate(-518.10,0)">2</text>
<text x="543.00" y="562.90" font-size="10.20" fill="#111" font-weight="bold" text-anchor="middle" transform="translate(543.00,0) scale(0.72,1) translate(-543.00,0)">3</text>
<text x="567.90" y="562.90" font-size="10.20" fill="#111" font-weight="bold" text-anchor="middle" transform="translate(567.90,0) scale(0.72,1) translate(-567.90,0)">4</text>
<polygon points="505.70,565.20 518.10,587.50 505.70,609.80 493.30,587.50" fill="#fba8ae" stroke="#cfcbc3" stroke-width="0.6"/>
<polygon points="530.50,565.20 542.90,587.50 530.50,609.80 518.10,587.50" fill="#ffffff" stroke="#cfcbc3" stroke-width="0.6"/>
<polygon points="555.30,565.20 567.70,587.50 555.30,609.80 542.90,587.50" fill="#ffffff" stroke="#cfcbc3" stroke-width="0.6"/>
<polygon points="518.10,587.50 530.50,609.80 518.10,632.10 505.70,609.80" fill="#ffffff" stroke="#cfcbc3" stroke-width="0.6"/>
<polygon points="542.90,587.50 555.30,609.80 542.90,632.10 530.50,609.80" fill="#f99ca2" stroke="#cfcbc3" stroke-width="0.6"/>
<polygon points="530.50,609.80 542.90,632.10 530.50,655.90 518.10,632.10" fill="#fcd5d9" stroke="#cfcbc3" stroke-width="0.6"/>
<text x="505.70" y="592.40" font-size="11.20" fill="#222" stroke="#222" stroke-width="0.5" text-anchor="middle" transform="translate(505.70,0) scale(0.56,1) translate(-505.70,0)">58</text>
<text x="530.50" y="592.40" font-size="11.20" fill="#8a8a8a" stroke="#8a8a8a" stroke-width="0.1" text-anchor="middle" transform="translate(530.50,0) scale(0.56,1) translate(-530.50,0)">21</text>
<text x="555.30" y="592.40" font-size="11.20" fill="#8a8a8a" stroke="#8a8a8a" stroke-width="0.1" text-anchor="middle" transform="translate(555.30,0) scale(0.56,1) translate(-555.30,0)">4</text>
<text x="518.10" y="614.70" font-size="11.20" fill="#8a8a8a" stroke="#8a8a8a" stroke-width="0.1" text-anchor="middle" transform="translate(518.10,0) scale(0.56,1) translate(-518.10,0)">13</text>
<text x="542.90" y="614.70" font-size="11.20" fill="#222" stroke="#222" stroke-width="0.5" text-anchor="middle" transform="translate(542.90,0) scale(0.56,1) translate(-542.90,0)">61</text>
<text x="530.50" y="637.00" font-size="11.20" fill="#222" stroke="#222" stroke-width="0.5" text-anchor="middle" transform="translate(530.50,0) scale(0.56,1) translate(-530.50,0)">50</text>
</svg>
</body></html>
